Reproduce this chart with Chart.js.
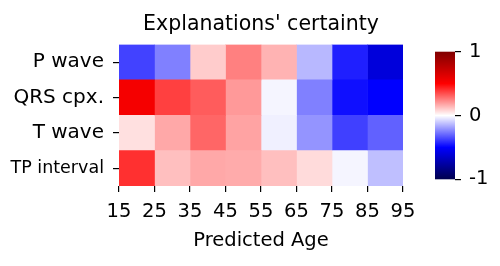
<!DOCTYPE html>
<html>
<head>
<meta charset="utf-8">
<script src="https://cdn.jsdelivr.net/npm/chart.js@4/dist/chart.umd.min.js"></script>
<style>
  body { margin: 0; background: #fff; }
  #wrap { position: relative; width: 500px; height: 266px; }
  #heat { position: absolute; left: 0; top: 0; }
  #cbar { position: absolute; left: 435px; top: 32px; }
</style>
</head>
<body>
<div id="wrap">
  <canvas id="heat" width="500" height="266"></canvas>
  <canvas id="cbar" width="65" height="167"></canvas>
</div>
<script>
// rows of the heatmap (top to bottom)
const rows = ['P wave', 'QRS cpx.', 'T wave', 'TP interval'];
// age bin edges on the x axis
const ageEdges = [15, 25, 35, 45, 55, 65, 75, 85, 95];

// certainty values per row, one per age bin (-1 .. 1)
const pWave      = [-0.37, -0.25, 0.10, 0.25, 0.15, -0.14, -0.44, -0.60];
const qrsCpx     = [0.54, 0.375, 0.32, 0.20, -0.02, -0.25, -0.47, -0.50];
const tWave      = [0.06, 0.17, 0.30, 0.18, -0.03, -0.21, -0.375, -0.31];
const tpInterval = [0.405, 0.125, 0.17, 0.165, 0.125, 0.07, -0.02, -0.125];

const values = [pWave, qrsCpx, tWave, tpInterval];
const FONT = 'DejaVu Sans';

// matplotlib "seismic" colormap
function seismic(v) {
    let r, g, b;
    if (v >= 0.5) { r = 255 * (1 - (v - 0.5)); g = 0; b = 0; }
    else if (v >= 0) { r = 255; g = b = 255 * (1 - 2 * v); }
    else if (v >= -0.5) { r = g = 255 * (1 + 2 * v); b = 255; }
    else { r = 0; g = 0; b = 255 * (1 - 1.4 * (-v - 0.5)); }
    return `rgb(${Math.round(r)}, ${Math.round(g)}, ${Math.round(b)})`;
}

// one dataset per age column, one floating bar per row
const datasets = ageEdges.slice(0, -1).map((edge, j) => ({
    data: rows.map(() => [edge, ageEdges[j + 1]]),
    backgroundColor: values.map(row => seismic(row[j])),
    borderWidth: 0,
    barPercentage: 1,
    categoryPercentage: 1,
    grouped: false
}));

new Chart(document.getElementById('heat'), {
    type: 'bar',
    data: { labels: rows, datasets: datasets },
    options: {
        indexAxis: 'y',
        responsive: false,
        animation: false,
        layout: { padding: { left: 0, right: 97, top: 0, bottom: 0 } },
        plugins: {
            legend: { display: false },
            tooltip: { enabled: false },
            title: {
                display: true,
                fullSize: false, // center over the heatmap only
                text: "Explanations' certainty",
                color: '#000',
                font: { family: FONT, size: 20.5, weight: 'normal' },
                padding: { top: 12, bottom: 8 }
            }
        },
        scales: {
            x: {
                type: 'linear',
                min: 15,
                max: 95,
                afterFit: s => { s.height = 80; },
                ticks: {
                    stepSize: 10,
                    color: '#000',
                    padding: 8,
                    font: { family: FONT, size: 19.5 }
                },
                grid: { drawOnChartArea: false, tickLength: 6, color: '#000', lineWidth: 1.2 },
                border: { display: false },
                title: {
                    display: true,
                    text: 'Predicted Age',
                    color: '#000',
                    font: { family: FONT, size: 19.5 },
                    padding: { top: 2, bottom: 13 }
                }
            },
            y: {
                afterFit: s => { s.width = 119; },
                ticks: {
                    color: '#000',
                    padding: 9,
                    font: ctx => ({ family: FONT, size: ctx.index === 3 ? 17.5 : 20 })
                },
                grid: { drawOnChartArea: false, offset: false, tickLength: 6, color: '#000', lineWidth: 1.2 },
                border: { display: false }
            }
        }
    }
});

// colorbar gradient drawn into the colorbar chart area
const colorbarFill = {
    id: 'colorbarFill',
    beforeDatasetsDraw(chart) {
        const { ctx, chartArea: a } = chart;
        const grad = ctx.createLinearGradient(0, a.bottom, 0, a.top);
        [-1, -0.5, 0, 0.5, 1].forEach(v => grad.addColorStop((v + 1) / 2, seismic(v)));
        ctx.save();
        ctx.fillStyle = grad;
        ctx.fillRect(a.left, a.top, a.right - a.left, a.bottom - a.top);
        ctx.restore();
    }
};

new Chart(document.getElementById('cbar'), {
    type: 'bar',
    data: { labels: [''], datasets: [] },
    plugins: [colorbarFill],
    options: {
        responsive: false,
        animation: false,
        layout: { padding: { left: 0, right: 0, top: 12, bottom: 11 } },
        plugins: { legend: { display: false }, tooltip: { enabled: false } },
        scales: {
            x: { display: false },
            y: {
                position: 'right',
                min: -1,
                max: 1,
                afterFit: s => { s.width = 45; },
                ticks: {
                    stepSize: 1,
                    color: '#000',
                    padding: 8,
                    font: { family: FONT, size: 19.5 }
                },
                grid: { drawOnChartArea: false, tickLength: 6, color: '#000', lineWidth: 1.2 },
                border: { display: false }
            }
        }
    }
});
</script>
</body>
</html>
